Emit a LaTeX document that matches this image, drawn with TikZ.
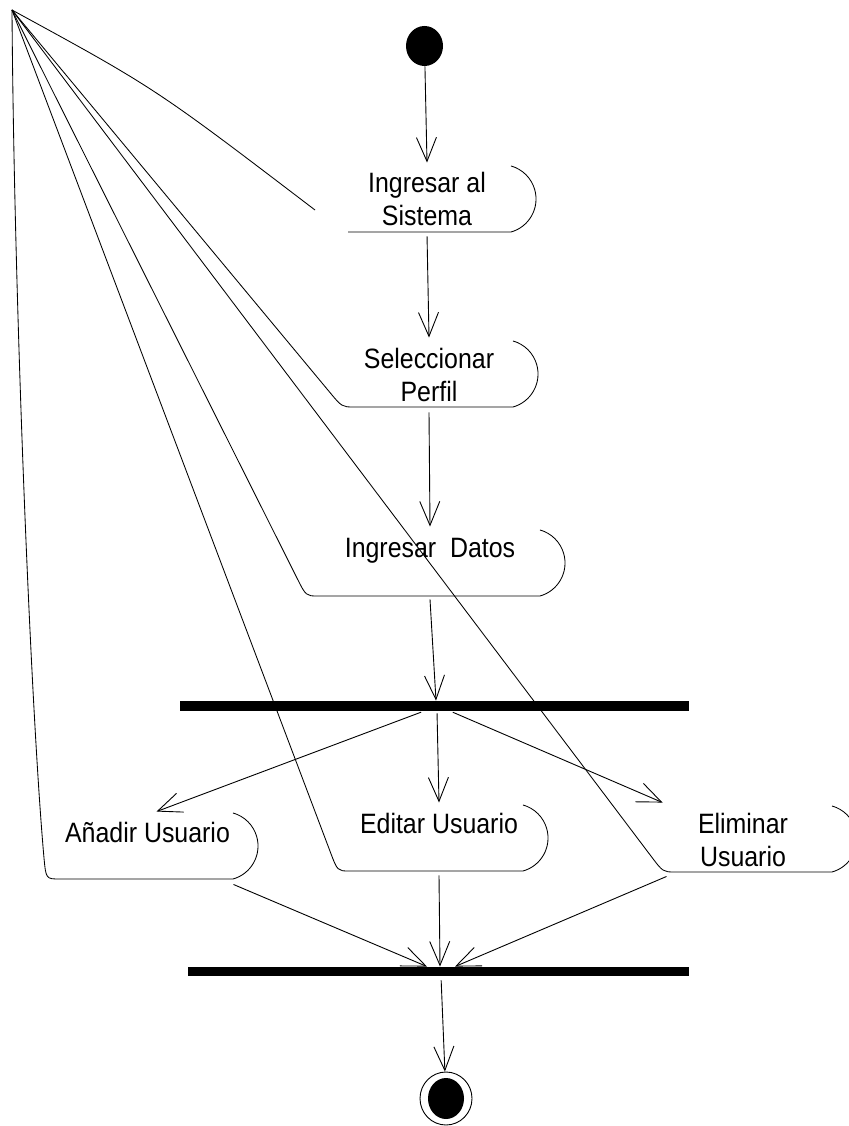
\documentclass[tikz,border=0pt]{standalone}
\usepackage{fontspec}
\newfontfamily\actfont{Liberation Sans}[FakeStretch=0.89]
\usetikzlibrary{arrows.meta,shapes.geometric,calc}

% outline of an activity: straight side from the hub, rounded lower-left
% corner at #1, bottom edge to #2, then the bulging right end
\newcommand\actoutline[2]{%
  \draw[actline] (hub) -- ($(#1)!20pt!(hub)$) .. controls (#1) .. ($(#1)+(12,0)$)
    -- (#2) arc[start angle=74.3,end angle=-74.3,radius=34.3];}

\begin{document}
\begin{tikzpicture}[x=1pt,y=-1pt,line width=0.9pt,
  arr/.style={-{Straight Barb[length=24pt,width=20pt]}},
  actline/.style={line width=0.85pt},
  acttext/.style={font={\actfont\fontsize{28}{33}\selectfont},inner sep=0pt,align=center},
  oneline/.style={acttext,text height=30pt,text depth=42pt},
  syncbar/.style={rectangle,fill=black,inner sep=0pt},
  startstate/.style={ellipse,fill=black,inner sep=0pt,minimum width=37pt,minimum height=40pt},
  endring/.style={ellipse,draw,fill=white,inner sep=0pt,minimum width=52pt,minimum height=53pt},
  enddot/.style={ellipse,fill=black,inner sep=0pt,minimum width=36pt,minimum height=41pt}]

\path[fill=white,use as bounding box] (0,0) rectangle (848,1126);

\coordinate (hub) at (12,10);

% activity outlines
\draw[actline] (hub) .. controls (155,88) .. (315,210);
\draw[actline] (348,232) -- (511,232) arc[start angle=74.3,end angle=-74.3,radius=34.3];
\actoutline{342,407}{513,407}
\actoutline{306,596}{540,596}
\draw[actline] (hub) .. controls (14,300) and (31,713) .. (44,858)
  .. controls (46,879) .. (60,879) -- (233,879)
  arc[start angle=74.3,end angle=-74.3,radius=34.3];
\actoutline{337.5,871}{523,871}
\actoutline{663,872}{832,872}

% activity labels
\node[acttext,minimum height=71pt] (ingSis) at (427,198.5) {Ingresar al\\Sistema};
\node[acttext,minimum height=74pt] (selPer) at (429,375) {Seleccionar\\Perfil};
\node[oneline] (ingDat) at (430,563) {Ingresar\ \ Datos};
\node[oneline,minimum width=171pt] (anadir) at (147.5,848) {Añadir Usuario};
\node[oneline] (editar) at (439,839) {Editar Usuario};
\node[acttext,minimum width=160pt,minimum height=73pt] (elim) at (743,839.5) {Eliminar\\Usuario};

% initial and final states, synchronisation bars
\node[startstate] (start) at (424.5,46) {};
\node[syncbar,minimum width=509pt,minimum height=10pt] (fork) at (434.5,706) {};
\node[syncbar,minimum width=501pt,minimum height=9pt] (join) at (438.5,971.5) {};
\node[endring] (fin) at (446,1098.5) {};
\node[enddot] (findot) at (fin.center) {};

% transitions
\draw[arr] (start) -- (ingSis.north);
\draw[arr,shorten <=2pt] (ingSis.south) -- (selPer.north);
\draw[arr] (selPer.south) -- (ingDat.north);
\draw[arr] (ingDat.south) -- ([xshift=1.5pt]fork.north);
\draw[arr,shorten <=2pt] ([xshift=-11.5pt]fork.south) -- ([xshift=9pt]anadir.north);
\draw[arr,shorten <=2pt] ([xshift=2.5pt]fork.south) -- (editar.north);
\draw[arr,shorten <=2pt] ([xshift=16.5pt]fork.south) -- (elim.north west);
\draw[arr] (anadir.south east) -- ([xshift=-11.5pt]join.north);
\draw[arr] (editar.south) -- ([xshift=1.5pt]join.north);
\draw[arr] ([xshift=4pt]elim.south west) -- ([xshift=16.5pt]join.north);
\draw[arr,shorten <=4pt] ([xshift=2.5pt]join.south) -- (fin);
\end{tikzpicture}
\end{document}
